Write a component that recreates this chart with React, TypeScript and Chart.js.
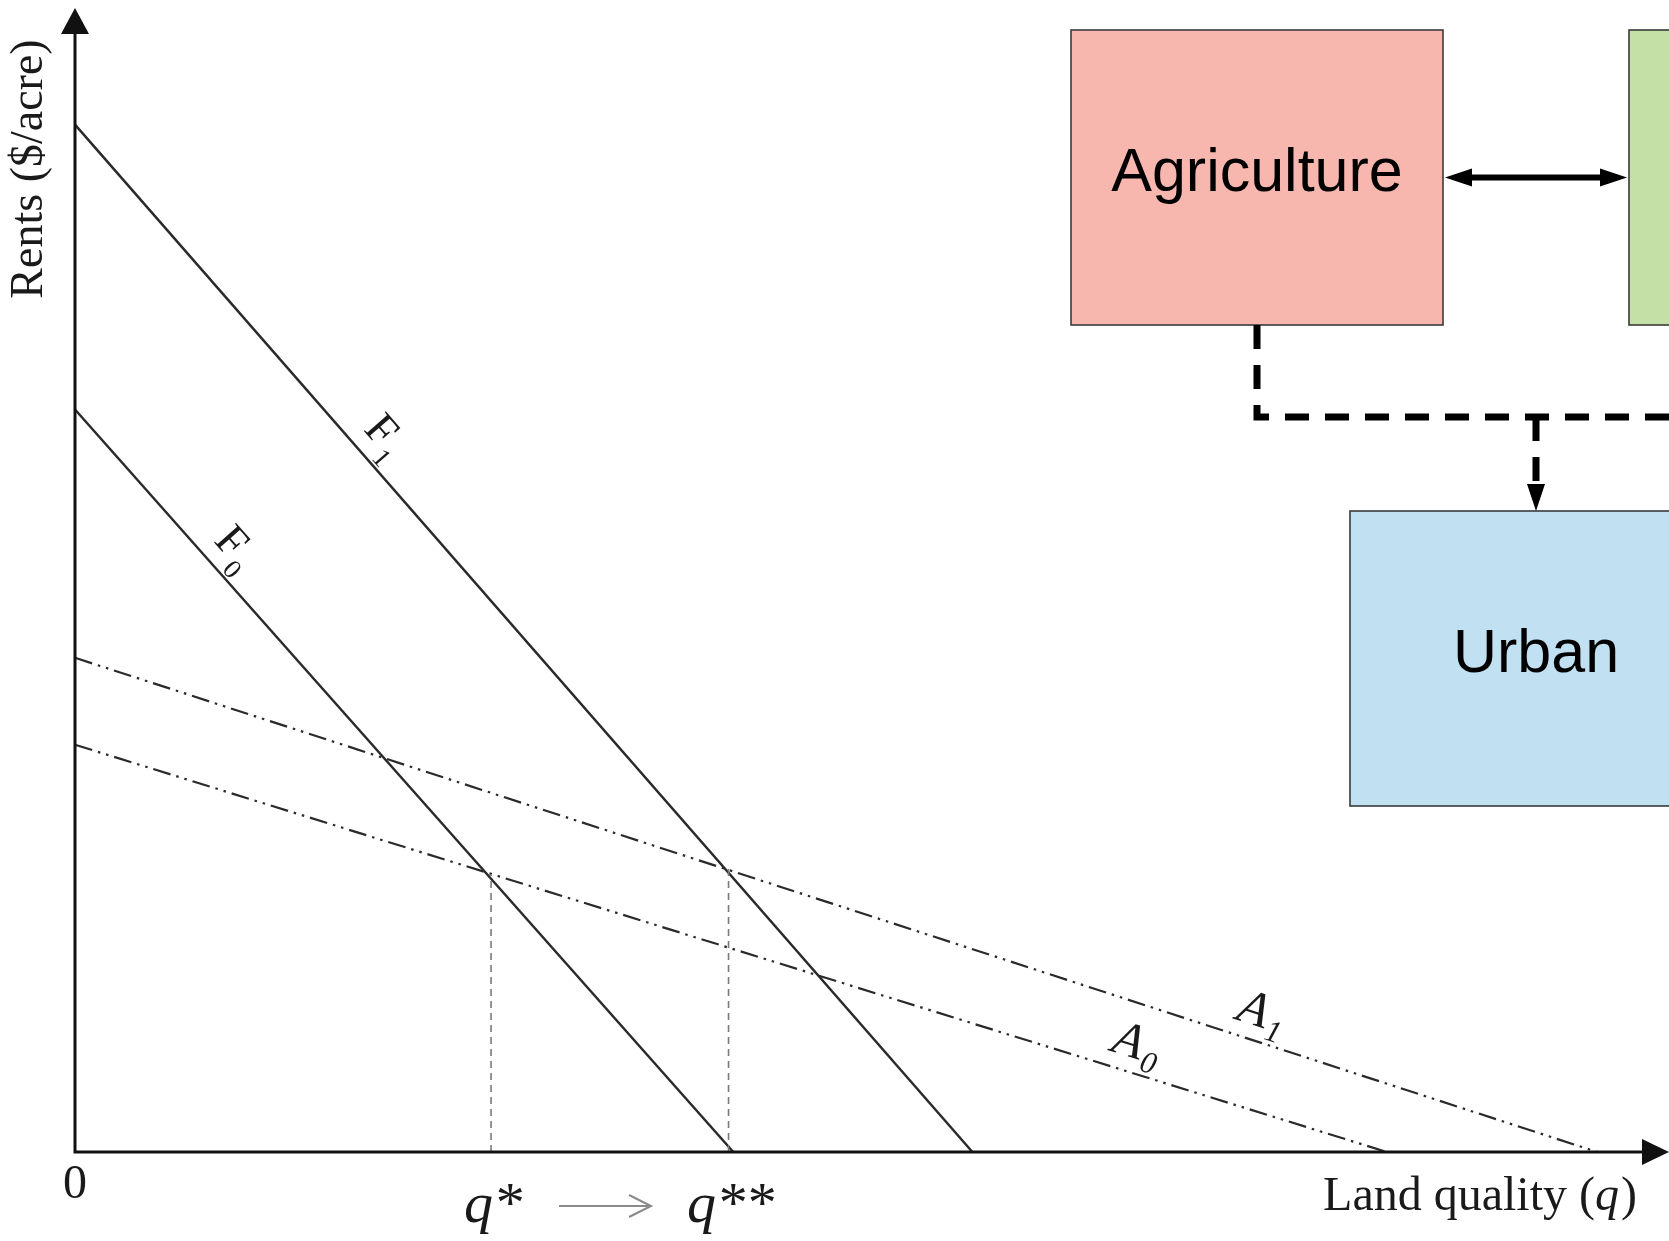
import React, { useEffect, useRef } from "react";
import { Chart, registerables } from "chart.js";

Chart.register(...registerables);

const CANVAS_W = 1669;
const CANVAS_H = 1241;

// Bid-rent curves: rent where quality is zero, and quality where rent falls to zero
const curveNames = ["F1", "F0", "A1", "A0"];
const rentAtZeroQuality = [89.8, 64.9, 43.2, 35.6];
const qualityAtZeroRent = [56.3, 41.3, 95.5, 82.3];

// Conversion thresholds marked by dashed drop lines
const thresholdNames = ["q*", "q**"];
const thresholdQuality = [26.1, 41.0];
const thresholdRent = [24.3, 24.8];

const xAxisTitle = ["Land quality (", "q", ")"];
const yAxisTitle = "Rents ($/acre)";
const originLabel = "0";

// Land-use flow diagram
const sectorNames = ["Agriculture", "", "Urban"];

const SERIF = "'Liberation Serif', 'Times New Roman', serif";
const SANS = "'Liberation Sans', Arial, sans-serif";

// layout of the diagram boxes (canvas pixels)
const boxLayout = [
  { x: 1071, y: 30, w: 372, h: 295, fill: "#f7b7ae" },
  { x: 1629, y: 30, w: 372, h: 295, fill: "#c5e0a7" },
  { x: 1350, y: 511, w: 372, h: 295, fill: "#c1e1f2" },
];
const connectorY = 417;

// label placement along each curve (fraction of its length) and styles
const curveLabelAt = [0.322, 0.212, 0.774, 0.803];
const curveLabelOffset = 31;
const curveIsAgri = [false, false, true, true];

function drawArrowHead(ctx: CanvasRenderingContext2D, tipX: number, tipY: number, dirX: number, dirY: number, len: number, half: number) {
  const nx = -dirY;
  const ny = dirX;
  ctx.beginPath();
  ctx.moveTo(tipX, tipY);
  ctx.lineTo(tipX - dirX * len + nx * half, tipY - dirY * len + ny * half);
  ctx.lineTo(tipX - dirX * len - nx * half, tipY - dirY * len - ny * half);
  ctx.closePath();
  ctx.fill();
}

function drawSubscripted(
  ctx: CanvasRenderingContext2D,
  cx: number,
  cy: number,
  angle: number,
  main: string,
  sub: string,
  mainFont: string,
  subFont: string,
  capH: number,
  drop: number
) {
  ctx.save();
  ctx.translate(cx, cy);
  ctx.rotate(angle);
  ctx.textBaseline = "alphabetic";
  ctx.textAlign = "left";
  ctx.font = mainFont;
  const wm = ctx.measureText(main).width;
  ctx.font = subFont;
  const ws = ctx.measureText(sub).width;
  const total = wm + 2 + ws;
  ctx.fillStyle = "#1a1a1a";
  ctx.font = mainFont;
  ctx.fillText(main, -total / 2, capH / 2);
  ctx.font = subFont;
  ctx.fillText(sub, -total / 2 + wm + 2, capH / 2 + drop);
  ctx.restore();
}

const decorations = {
  id: "landRentDecorations",
  afterDraw(chart: any) {
    const ctx: CanvasRenderingContext2D = chart.ctx;
    const xs = chart.scales.x;
    const ys = chart.scales.y;
    const x0 = xs.getPixelForValue(0);
    const y0 = ys.getPixelForValue(0);
    const xEnd = xs.getPixelForValue(xs.max);
    const yTop = ys.getPixelForValue(ys.max);

    ctx.save();
    // axes with arrowheads
    ctx.strokeStyle = "#111";
    ctx.fillStyle = "#111";
    ctx.lineWidth = 3;
    ctx.beginPath();
    ctx.moveTo(x0, yTop + 20);
    ctx.lineTo(x0, y0);
    ctx.lineTo(xEnd - 20, y0);
    ctx.stroke();
    drawArrowHead(ctx, x0, yTop, 0, -1, 26, 14);
    drawArrowHead(ctx, xEnd, y0, 1, 0, 27, 13);

    // axis titles
    ctx.fillStyle = "#1a1a1a";
    ctx.textBaseline = "alphabetic";
    ctx.save();
    ctx.translate(x0 - 48, 169);
    ctx.rotate(-Math.PI / 2);
    ctx.font = `46px ${SERIF}`;
    ctx.textAlign = "center";
    ctx.fillText(yAxisTitle, 0, 15);
    ctx.restore();

    const fontUp = `48px ${SERIF}`;
    const fontIt = `italic 48px ${SERIF}`;
    ctx.font = fontUp;
    const wA = ctx.measureText(xAxisTitle[0]).width;
    const wC = ctx.measureText(xAxisTitle[2]).width;
    ctx.font = fontIt;
    const wB = ctx.measureText(xAxisTitle[1]).width;
    const right = 1637;
    let tx = right - (wA + wB + wC + 2);
    ctx.textAlign = "left";
    ctx.font = fontUp;
    ctx.fillText(xAxisTitle[0], tx, 1210);
    tx += wA;
    ctx.font = fontIt;
    ctx.fillText(xAxisTitle[1], tx, 1210);
    tx += wB + 2;
    ctx.font = fontUp;
    ctx.fillText(xAxisTitle[2], tx, 1210);

    // origin label
    ctx.textAlign = "center";
    ctx.font = `48px ${SERIF}`;
    ctx.fillText(originLabel, x0, 1198);

    // threshold labels and the shift arrow between them
    ctx.font = `italic 58px ${SERIF}`;
    const edges: number[][] = [];
    thresholdNames.forEach((name, i) => {
      const px = xs.getPixelForValue(thresholdQuality[i]);
      const w = ctx.measureText(name).width;
      ctx.fillText(name, px + 2, 1222);
      edges.push([px + 2 - w / 2, px + 2 + w / 2]);
    });
    const aStart = edges[0][1] + 37;
    const aEnd = edges[1][0] - 36;
    ctx.strokeStyle = "#8a8a8a";
    ctx.lineWidth = 2;
    ctx.beginPath();
    ctx.moveTo(aStart, 1206);
    ctx.lineTo(aEnd, 1206);
    ctx.moveTo(aEnd - 22, 1195);
    ctx.lineTo(aEnd, 1206);
    ctx.lineTo(aEnd - 22, 1217);
    ctx.stroke();

    // curve labels
    curveNames.forEach((name, i) => {
      const p0x = xs.getPixelForValue(0);
      const p0y = ys.getPixelForValue(rentAtZeroQuality[i]);
      const p1x = xs.getPixelForValue(qualityAtZeroRent[i]);
      const p1y = ys.getPixelForValue(0);
      const dx = p1x - p0x;
      const dy = p1y - p0y;
      const len = Math.hypot(dx, dy);
      const nx = dy / len;
      const ny = -dx / len;
      const f = curveLabelAt[i];
      const cx = p0x + dx * f + nx * curveLabelOffset;
      const cy = p0y + dy * f + ny * curveLabelOffset;
      const ang = Math.atan2(dy, dx);
      if (curveIsAgri[i]) {
        drawSubscripted(ctx, cx, cy, ang, name[0], name.slice(1), `italic 50px ${SERIF}`, `italic 31px ${SERIF}`, 33, 10);
      } else {
        drawSubscripted(ctx, cx, cy, ang, name[0], name.slice(1), `45px ${SERIF}`, `27px ${SERIF}`, 30, 13);
      }
    });

    // land-use diagram
    boxLayout.forEach((b, i) => {
      ctx.fillStyle = b.fill;
      ctx.fillRect(b.x, b.y, b.w, b.h);
      ctx.strokeStyle = "#3a3a3a";
      ctx.lineWidth = 1.6;
      ctx.strokeRect(b.x, b.y, b.w, b.h);
      if (sectorNames[i]) {
        ctx.fillStyle = "#000";
        ctx.font = `61px ${SANS}`;
        ctx.textAlign = "center";
        ctx.textBaseline = "middle";
        ctx.fillText(sectorNames[i], b.x + b.w / 2, b.y + b.h / 2 - 3);
      }
    });
    const agri = boxLayout[0];
    const other = boxLayout[1];
    const urban = boxLayout[2];

    // two-way arrow between the top boxes
    const ay = agri.y + agri.h / 2;
    const ax0 = agri.x + agri.w + 2;
    const ax1 = other.x - 2;
    ctx.fillStyle = "#000";
    ctx.strokeStyle = "#000";
    ctx.lineWidth = 6;
    ctx.setLineDash([]);
    ctx.beginPath();
    ctx.moveTo(ax0 + 20, ay);
    ctx.lineTo(ax1 - 20, ay);
    ctx.stroke();
    drawArrowHead(ctx, ax0, ay, -1, 0, 27, 9);
    drawArrowHead(ctx, ax1, ay, 1, 0, 27, 9);

    // dashed conversion path to urban
    const agriCx = agri.x + agri.w / 2;
    const urbCx = urban.x + urban.w / 2;
    ctx.lineWidth = 7;
    ctx.lineCap = "butt";
    ctx.setLineDash([24, 16]);
    ctx.beginPath();
    ctx.moveTo(agriCx, agri.y + agri.h);
    ctx.lineTo(agriCx, connectorY);
    ctx.lineTo(CANVAS_W + 10, connectorY);
    ctx.stroke();
    ctx.setLineDash([24, 16]);
    ctx.beginPath();
    ctx.moveTo(urbCx, connectorY);
    ctx.lineTo(urbCx, urban.y - 26);
    ctx.stroke();
    ctx.setLineDash([]);
    drawArrowHead(ctx, urbCx, urban.y, 0, 1, 27, 9);

    ctx.restore();
  },
};

export default function App() {
  const canvasRef = useRef<HTMLCanvasElement | null>(null);

  useEffect(() => {
    const canvas = canvasRef.current;
    if (!canvas) return;

    const curveSets = curveNames.map((name, i) => ({
      label: name,
      data: [
        { x: 0, y: rentAtZeroQuality[i] },
        { x: qualityAtZeroRent[i], y: 0 },
      ],
      showLine: true,
      borderColor: "#2a2a2a",
      borderWidth: curveIsAgri[i] ? 2.2 : 2.5,
      borderDash: curveIsAgri[i] ? [18, 6, 2.5, 6, 2.5, 6] : [],
      pointRadius: 0,
      clip: false as const,
    }));

    const thresholdSets = thresholdNames.map((name, i) => ({
      label: name,
      data: [
        { x: thresholdQuality[i], y: 0 },
        { x: thresholdQuality[i], y: thresholdRent[i] },
      ],
      showLine: true,
      borderColor: "#7a7a7a",
      borderWidth: 1.6,
      borderDash: [7, 5],
      pointRadius: 0,
      clip: false as const,
    }));

    const chart = new Chart(canvas, {
      type: "scatter",
      data: { datasets: [...thresholdSets, ...curveSets] },
      options: {
        animation: false,
        responsive: false,
        devicePixelRatio: 1,
        layout: { padding: { left: 75, right: 0, top: 8, bottom: 89 } },
        plugins: {
          legend: { display: false },
          tooltip: { enabled: false },
        },
        scales: {
          x: { type: "linear", min: 0, max: 100, display: false },
          y: { type: "linear", min: 0, max: 100, display: false },
        },
      },
      plugins: [decorations],
    });

    return () => chart.destroy();
  }, []);

  return (
    <div style={{ position: "absolute", left: 0, top: 0, width: CANVAS_W, height: CANVAS_H, background: "#fff" }}>
      <canvas ref={canvasRef} width={CANVAS_W} height={CANVAS_H} style={{ display: "block" }} />
    </div>
  );
}
